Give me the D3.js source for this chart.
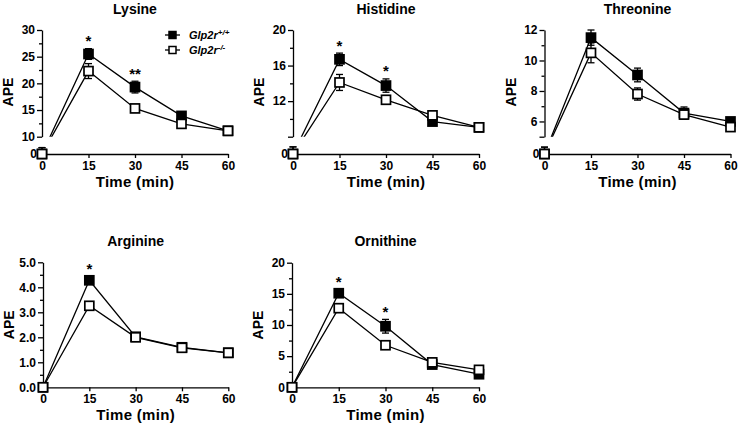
<!DOCTYPE html>
<html><head><meta charset="utf-8">
<script src="https://cdn.jsdelivr.net/npm/d3@7"></script>
<style>
body{margin:0;background:#fff}
text{font-family:"Liberation Sans",Arial,Helvetica,sans-serif;font-weight:bold;fill:#000}
</style>
</head><body>
<svg id="chart" width="738" height="427"></svg>
<script>
// ---------------- DATA ----------------
const times = [0, 15, 30, 45, 60];
const xTickLabels = ["0", "15", "30", "45", "60"];
const seriesBase = "Glp2r";
const seriesSup = ["+/+", "-/-"];
const xAxisTitle = "Time (min)";
const yAxisTitle = "APE";

const lysineWT = [0, 25.5, 19.3, 13.9, 11.1];
const lysineWTErr = [1.2, 1.0, 1.1, 0.4, 0.3];
const lysineKO = [0, 22.3, 15.3, 12.4, 11.1];
const lysineKOErr = [1.2, 1.4, 0.4, 0.4, 0.3];
const lysineStars = ["", "*", "**", "", ""];
const lysineYTicks = [10, 15, 20, 25, 30];
const lysineYTickLabels = ["10", "15", "20", "25", "30"];

const histidineWT = [0, 16.7, 13.75, 9.7, 9.05];
const histidineWTErr = [0.8, 0.7, 0.75, 0.3, 0.2];
const histidineKO = [0, 14.1, 12.15, 10.4, 9.05];
const histidineKOErr = [0.8, 0.9, 0.35, 0.3, 0.2];
const histidineStars = ["", "*", "*", "", ""];
const histidineYTicks = [8, 12, 16, 20];
const histidineYTickLabels = ["", "12", "16", "20"];

const threonineWT = [0, 11.5, 9.05, 6.55, 6.0];
const threonineWTErr = [0.45, 0.5, 0.45, 0.4, 0.15];
const threonineKO = [0, 10.5, 7.8, 6.45, 5.63];
const threonineKOErr = [0.45, 0.65, 0.4, 0.3, 0.15];
const threonineStars = ["", "", "", "", ""];
const threonineYTicks = [5, 6, 8, 10, 12];
const threonineYTickLabels = ["", "6", "8", "10", "12"];

const arginineWT = [0, 4.28, 2.02, 1.6, 1.38];
const arginineWTErr = [0.03, 0.16, 0.07, 0.06, 0.05];
const arginineKO = [0, 3.26, 2.0, 1.58, 1.38];
const arginineKOErr = [0.03, 0.12, 0.08, 0.06, 0.05];
const arginineStars = ["", "*", "", "", ""];
const arginineYTicks = [0, 1, 2, 3, 4, 5];
const arginineYTickLabels = ["0.0", "1.0", "2.0", "3.0", "4.0", "5.0"];

const ornithineWT = [0, 15.1, 9.8, 3.65, 2.1];
const ornithineWTErr = [0.3, 0.6, 1.1, 0.4, 0.3];
const ornithineKO = [0, 12.7, 6.75, 4.0, 2.8];
const ornithineKOErr = [0.3, 0.5, 0.3, 0.4, 0.4];
const ornithineStars = ["", "*", "*", "", ""];
const ornithineYTicks = [0, 5, 10, 15, 20];
const ornithineYTickLabels = ["0", "5", "10", "15", "20"];

// ---------------- LAYOUT ----------------
const panels = [
  {title:"Lysine", wt:lysineWT, wtErr:lysineWTErr, ko:lysineKO, koErr:lysineKOErr, stars:lysineStars,
   ticks:lysineYTicks, labels:lysineYTickLabels, minorStep:2.5, brk:true,
   left:42, right:228, top:30, bottom:136.7, zeroY:154, domain:[10,30], legend:true},
  {title:"Histidine", wt:histidineWT, wtErr:histidineWTErr, ko:histidineKO, koErr:histidineKOErr, stars:histidineStars,
   ticks:histidineYTicks, labels:histidineYTickLabels, minorStep:2, brk:true,
   left:293, right:479, top:30, bottom:136.7, zeroY:154, domain:[8,20]},
  {title:"Threonine", wt:threonineWT, wtErr:threonineWTErr, ko:threonineKO, koErr:threonineKOErr, stars:threonineStars,
   ticks:threonineYTicks, labels:threonineYTickLabels, minorStep:1, brk:true,
   left:544.5, right:730.5, top:30, bottom:136.7, zeroY:154, domain:[5,12]},
  {title:"Arginine", wt:arginineWT, wtErr:arginineWTErr, ko:arginineKO, koErr:arginineKOErr, stars:arginineStars,
   ticks:arginineYTicks, labels:arginineYTickLabels, minorStep:0.5, brk:false,
   left:43, right:228.3, top:262.3, bottom:387.3, zeroY:387.3, domain:[0,5]},
  {title:"Ornithine", wt:ornithineWT, wtErr:ornithineWTErr, ko:ornithineKO, koErr:ornithineKOErr, stars:ornithineStars,
   ticks:ornithineYTicks, labels:ornithineYTickLabels, minorStep:2.5, brk:false,
   left:292, right:479, top:262.7, bottom:387.3, zeroY:387.3, domain:[0,20]}
];

const svg = d3.select("#chart");
const SW = 1.3;
const MS = 9;

function styleAxis(g) {
  g.selectAll("path.domain").attr("stroke", "#000").attr("stroke-width", SW);
  g.selectAll(".tick line").attr("stroke", "#000").attr("stroke-width", SW);
  g.selectAll(".tick text").style("font-size", "12px").style("font-weight", "bold")
    .attr("fill", "#000").style("font-family", '"Liberation Sans",Arial,sans-serif');
}

panels.forEach((p, pi) => {
  const g = svg.append("g");
  const x = d3.scaleLinear().domain([0, 60]).range([p.left, p.right]);
  const up = d3.scaleLinear().domain(p.domain).range([p.bottom, p.top]);
  const k = (p.bottom - p.top) / (p.domain[1] - p.domain[0]);
  const y = p.brk ? (v => v >= p.domain[0] ? up(v) : p.zeroY - v * k) : up;

  // minor ticks
  const minor = d3.range(p.domain[0], p.domain[1] + 1e-9, p.minorStep)
    .filter(v => !p.ticks.some(t => Math.abs(t - v) < 1e-6));
  g.append("g").attr("transform", `translate(${p.left},0)`)
    .call(d3.axisLeft(up).tickValues(minor).tickSize(3).tickFormat(""))
    .call(a => a.select(".domain").remove())
    .call(styleAxis);
  // major y axis
  g.append("g").attr("transform", `translate(${p.left},0)`)
    .call(d3.axisLeft(up).tickValues(p.ticks).tickSize(5).tickSizeOuter(0).tickPadding(2)
      .tickFormat((d, i) => p.labels[i]))
    .call(styleAxis);
  if (p.brk) {
    g.append("text").attr("x", p.left - 5).attr("y", p.zeroY + 4.3)
      .attr("text-anchor", "end").style("font-size", "12px").text("0");
  }
  // x axis
  g.append("g").attr("transform", `translate(0,${p.zeroY})`)
    .call(d3.axisBottom(x).tickValues(times).tickSize(4).tickSizeOuter(0).tickPadding(3.5)
      .tickFormat((d, i) => xTickLabels[i]))
    .call(styleAxis);

  // titles
  const cx = (p.left + p.right) / 2;
  g.append("text").attr("x", cx).attr("y", p.brk ? 14 : 245.5).attr("text-anchor", "middle")
    .style("font-size", "14px").text(p.title);
  g.append("text").attr("x", cx).attr("y", p.zeroY + 33).attr("text-anchor", "middle")
    .style("font-size", "15px").style("letter-spacing", "0.3px").text(xAxisTitle);
  const ay = (p.top + (p.brk ? p.zeroY : p.bottom)) / 2;
  g.append("text").attr("transform", `translate(${p.left - 29},${ay}) rotate(-90)`)
    .attr("text-anchor", "middle").style("font-size", "14px").text(yAxisTitle);

  // clip for broken axis
  let clipId = null;
  if (p.brk) {
    clipId = "clip" + pi;
    svg.append("clipPath").attr("id", clipId).append("rect")
      .attr("x", p.left - 20).attr("y", 0).attr("width", p.right - p.left + 40).attr("height", p.bottom);
  }

  const series = [
    {v: p.wt, e: p.wtErr, fill: "#000"},
    {v: p.ko, e: p.koErr, fill: "#fff"}
  ];
  const line = d3.line().x((d, i) => x(times[i])).y(d => y(d));
  series.forEach(s => {
    const path = g.append("path").datum(s.v).attr("d", line)
      .attr("fill", "none").attr("stroke", "#000").attr("stroke-width", SW);
    if (clipId) path.attr("clip-path", `url(#${clipId})`);
  });
  series.forEach(s => {
    s.v.forEach((v, i) => {
      if (s.e[i] <= 0) return;
      const xx = x(times[i]);
      const y1 = y(v + s.e[i]), y2 = y(Math.max(0, v - s.e[i]));
      g.append("line").attr("x1", xx).attr("x2", xx).attr("y1", y1).attr("y2", y2)
        .attr("stroke", "#000").attr("stroke-width", SW);
      g.append("line").attr("x1", xx - 3.5).attr("x2", xx + 3.5).attr("y1", y1).attr("y2", y1)
        .attr("stroke", "#000").attr("stroke-width", SW);
      if (v - s.e[i] > 0)
        g.append("line").attr("x1", xx - 3.5).attr("x2", xx + 3.5).attr("y1", y2).attr("y2", y2)
          .attr("stroke", "#000").attr("stroke-width", SW);
    });
  });
  series.forEach(s => {
    g.selectAll(null).data(s.v).enter().append("rect")
      .attr("x", (d, i) => x(times[i]) - MS / 2).attr("y", d => y(d) - MS / 2)
      .attr("width", MS).attr("height", MS)
      .attr("fill", s.fill).attr("stroke", "#000").attr("stroke-width", 1.7);
  });
  // significance stars
  p.stars.forEach((st, i) => {
    if (!st) return;
    const top = Math.min(y(p.wt[i] + p.wtErr[i]), y(p.ko[i] + p.koErr[i]));
    g.append("text").attr("x", x(times[i])).attr("y", top - 2.5).attr("text-anchor", "middle")
      .style("font-size", "15px").text(st);
  });

  if (p.legend) {
    const ly = [35, 50];
    ly.forEach((yy, j) => {
      g.append("line").attr("x1", 165).attr("x2", 180).attr("y1", yy).attr("y2", yy)
        .attr("stroke", "#000").attr("stroke-width", SW);
      g.append("rect").attr("x", 172.5 - 3.5).attr("y", yy - 3.5).attr("width", 7).attr("height", 7)
        .attr("fill", j === 0 ? "#000" : "#fff").attr("stroke", "#000").attr("stroke-width", 1.5);
      const t = g.append("text").attr("x", 189).attr("y", yy + 4)
        .style("font-size", "11px").style("font-style", "italic");
      t.append("tspan").text(seriesBase);
      t.append("tspan").attr("dy", -4).style("font-size", "8px").text(seriesSup[j]);
    });
  }
});
</script>
</body></html>
